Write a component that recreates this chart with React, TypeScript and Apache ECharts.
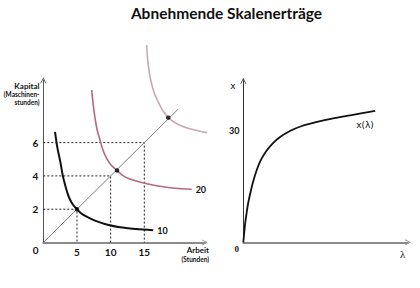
import { useEffect, useRef } from "react";
import * as echarts from "echarts";

// Isoquants (Arbeit, Kapital) for output levels 10, 20, 30
const iso10: [number, number][] = [
  [1.74, 6.65], [2.11, 5.65], [2.54, 4.83], [2.85, 4.11], [3.22, 3.48],
  [3.59, 2.97], [3.96, 2.58], [4.41, 2.27], [5.0, 2.0], [5.6, 1.76],
  [6.44, 1.55], [7.68, 1.31], [9.41, 1.08], [11.39, 0.91], [13.76, 0.81],
  [16.33, 0.74],
];
const iso20: [number, number][] = [
  [7.19, 9.16], [7.42, 8.26], [7.68, 7.48], [8.0, 6.76], [8.42, 6.16],
  [8.86, 5.56], [9.41, 5.05], [10.13, 4.62], [10.95, 4.33], [11.83, 4.02],
  [12.87, 3.81], [14.06, 3.66], [15.4, 3.53], [17.03, 3.39], [18.81, 3.29],
  [20.45, 3.23], [22.03, 3.2],
];
const iso30: [number, number][] = [
  [15.35, 11.86], [15.44, 11.26], [15.59, 10.66], [15.81, 10.06], [16.1, 9.52],
  [16.48, 8.98], [17.0, 8.5], [17.7, 7.96], [18.56, 7.5], [19.4, 7.24],
  [20.45, 7.02], [21.78, 6.83], [23.27, 6.68], [25.05, 6.56], [27.13, 6.47],
  [29.2, 6.4],
];
// Expansion path through the origin and the points where it meets each isoquant
const ray: [number, number][] = [[0, 0], [20, 8]];
const rayHits: [number, number][] = [[5, 2], [10.95, 4.33], [18.56, 7.5]];
// Proportional input bundles marked with dashed guides
const guideLabor = [5, 10, 15];
const guideCapital = [2, 4, 6];
const laborTicks = [5, 10, 15];
const capitalTicks = [2, 4, 6];
// Output x as a function of the scale factor lambda
const lambdaCurve: [number, number][] = [
  [0, 0], [0.042, 0.44], [0.1, 1.04], [0.18, 1.65], [0.28, 2.31], [0.42, 2.98],
  [0.58, 3.64], [0.77, 4.27], [1.02, 4.91], [1.35, 5.48], [1.74, 5.96],
  [2.19, 6.36], [2.78, 6.72], [3.49, 7.02], [4.33, 7.25], [5.28, 7.46],
  [6.36, 7.66], [7.85, 7.93],
];

const SANS = "Lato, 'Open Sans', sans-serif";
const arrow = "path://M0,10 L5,0 L10,10 L8.6,10 L5,2.8 L1.4,10 Z";

function txt(
  text: string, x: number, y: number, size: number,
  opts: { align?: string; weight?: string; family?: string; color?: string } = {}
) {
  return {
    type: "text",
    x,
    y,
    silent: true,
    style: {
      text,
      align: opts.align ?? "center",
      verticalAlign: "middle",
      font: `${opts.weight ?? "bold"} ${size}px ${opts.family ?? SANS}`,
      fill: opts.color ?? "#111",
    },
  };
}

export default function App() {
  const ref = useRef<HTMLDivElement>(null);

  useEffect(() => {
    if (!ref.current) return;
    const chart = echarts.init(ref.current, null, { renderer: "svg" });

    const guides = guideLabor.map((lx, i) => ({
      type: "line",
      xAxisIndex: 0,
      yAxisIndex: 0,
      data: [[0, guideCapital[i]], [lx, guideCapital[i]], [lx, 0]],
      symbol: "none",
      silent: true,
      z: 1,
      lineStyle: { color: "#222", width: 1, type: [2, 2] },
    }));

    const curve = (data: [number, number][], color: string, width: number, extra: object = {}) => ({
      type: "line",
      data,
      symbol: "none",
      smooth: 0.3,
      silent: true,
      clip: false,
      z: 3,
      lineStyle: { color, width },
      ...extra,
    });

    const labelStyle = (text: string) => ({
      show: true,
      formatter: text,
      distance: 4,
      color: "#111",
      fontFamily: SANS,
      fontWeight: "bold",
      fontSize: 9,
    });

    chart.setOption({
      animation: false,
      backgroundColor: "#fff",
      grid: [
        { left: 43.3, top: 80.2, width: 161.6, height: 162.3, containLabel: false, outerBoundsMode: "none" },
        { left: 243.3, top: 80.8, width: 164.6, height: 161.5, containLabel: false, outerBoundsMode: "none" },
      ],
      xAxis: [
        {
          type: "value", gridIndex: 0, min: 0, max: 24,
          axisLine: { lineStyle: { color: "#8a8a8a", width: 2 }, symbol: ["none", arrow], symbolSize: [6, 7] },
          axisTick: { show: false },
          splitLine: { show: false },
          axisLabel: {
            customValues: laborTicks, margin: 4, color: "#111",
            fontFamily: SANS, fontWeight: "bold", fontSize: 10,
          },
        },
        {
          type: "value", gridIndex: 1, min: 0, max: 9.8,
          axisLine: { lineStyle: { color: "#8a8a8a", width: 2 }, symbol: ["none", arrow], symbolSize: [6, 7] },
          axisTick: { show: false },
          splitLine: { show: false },
          axisLabel: { show: false },
        },
      ],
      yAxis: [
        {
          type: "value", gridIndex: 0, min: 0, max: 9.75,
          axisLine: { show: true, lineStyle: { color: "#555", width: 1 }, symbol: ["none", arrow], symbolSize: [6, 7] },
          axisTick: { show: false },
          splitLine: { show: false },
          axisLabel: {
            customValues: capitalTicks, margin: 5, color: "#111",
            fontFamily: SANS, fontWeight: "bold", fontSize: 10,
          },
        },
        {
          type: "value", gridIndex: 1, min: 0, max: 9.75,
          axisLine: { show: true, lineStyle: { color: "#333", width: 1 }, symbol: ["none", arrow], symbolSize: [6, 7] },
          axisTick: { show: false },
          splitLine: { show: false },
          axisLabel: { show: false },
        },
      ],
      series: [
        ...guides,
        {
          type: "line", xAxisIndex: 0, yAxisIndex: 0, data: ray, symbol: "none", silent: true, z: 2,
          lineStyle: { color: "#7a7a7a", width: 1 },
        },
        curve(iso10, "#111", 2, { xAxisIndex: 0, yAxisIndex: 0, endLabel: labelStyle("10") }),
        curve(iso20, "#b4687c", 1.6, { xAxisIndex: 0, yAxisIndex: 0, endLabel: labelStyle("20") }),
        curve(iso30, "#c9aab0", 1.6, { xAxisIndex: 0, yAxisIndex: 0 }),
        {
          type: "scatter", xAxisIndex: 0, yAxisIndex: 0, data: rayHits, symbolSize: 4.5, silent: true, z: 5,
          itemStyle: { color: "#000" },
        },
        curve(lambdaCurve, "#111", 1.8, { xAxisIndex: 1, yAxisIndex: 1 }),
      ],
      graphic: [
        txt("Abnehmende Skalenerträge", 226.5, 13, 15.5),
        txt("Kapital", 39.5, 86, 8, { align: "right" }),
        txt("(Maschinen-", 39.5, 94.5, 6.5, { align: "right" }),
        txt("stunden)", 39.5, 102.5, 6.5, { align: "right" }),
        txt("0", 35.7, 250, 10),
        txt("Arbeit", 209, 250, 8, { align: "right" }),
        txt("(Stunden)", 209, 259, 6.5, { align: "right" }),
        txt("30", 234.3, 130, 9),
        txt("x", 233, 86, 9, { family: "'DejaVu Sans', sans-serif", weight: "normal" }),
        txt("x(λ)", 365, 124.5, 9, { family: "'DejaVu Sans', sans-serif", weight: "normal" }),
        txt("0", 236.7, 248.5, 9, { family: "'Liberation Serif', serif" }),
        txt("λ", 402.7, 254, 11, { family: "'Liberation Serif', serif", weight: "normal" }),
      ],
    });

    return () => chart.dispose();
  }, []);

  return (
    <div
      ref={ref}
      style={{ position: "fixed", left: 0, top: 0, width: 420, height: 288, background: "#fff" }}
    />
  );
}
